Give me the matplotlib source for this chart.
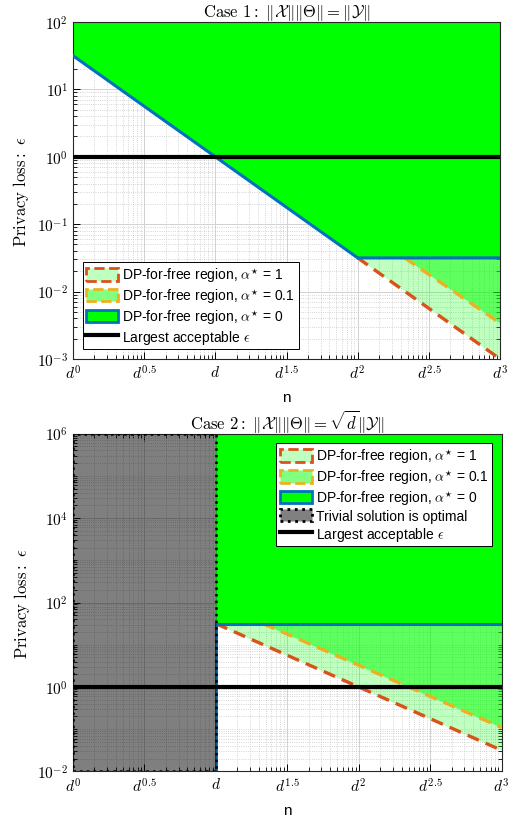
import numpy as np
import matplotlib
matplotlib.use("Agg")
import matplotlib.pyplot as plt
from matplotlib.patches import Patch
from matplotlib.lines import Line2D
from matplotlib.ticker import LogLocator, FixedLocator, FixedFormatter, NullFormatter

plt.rcParams["mathtext.fontset"] = "cm"
plt.rcParams["font.family"] = ["Liberation Sans", "DejaVu Sans"]

D = 100.0  # value of d used for the axis (d^0.5 = one decade)

# x positions are exponents of d, y values are epsilon
# case 1
c1_blue_t = [0.0, 2.0, 3.0]
c1_blue_eps = [31.6, 0.0316, 0.0316]
c1_red_t = [2.0, 3.0]
c1_red_eps = [0.0316, 0.001]
c1_orange_t = [2.33, 3.0]
c1_orange_eps = [0.0316, 0.0034]
c1_ylim = [1e-3, 1e2]

# case 2
c2_trivial_t = [0.0, 1.0]
c2_blue_t = [1.0, 3.0]
c2_blue_eps = [31.6, 31.6]
c2_red_t = [1.0, 3.0]
c2_red_eps = [31.6, 0.0316]
c2_orange_t = [1.33, 3.0]
c2_orange_eps = [31.6, 0.11]
c2_ylim = [1e-2, 1e6]

eps_max = 1.0

xtick_exp = [0, 0.5, 1, 1.5, 2, 2.5, 3]
xtick_labels = [r"$d^{0}$", r"$d^{0.5}$", r"$d$", r"$d^{1.5}$",
                r"$d^{2}$", r"$d^{2.5}$", r"$d^{3}$"]

GREEN = (0.0, 1.0, 0.0)
BLUE = (0.0, 0.447, 0.741)
RED = (0.851, 0.325, 0.098)
ORANGE = (0.929, 0.694, 0.125)
DASH = (0, (3.7, 2.2))

labels = [r"DP-for-free region, $\alpha^{\star}$ = 1",
          r"DP-for-free region, $\alpha^{\star}$ = 0.1",
          r"DP-for-free region, $\alpha^{\star}$ = 0",
          "Trivial solution is optimal",
          r"Largest acceptable $\epsilon$"]


def xs(t):
    return D ** np.asarray(t, dtype=float)


def interp_log(t, t_pts, eps_pts):
    return 10 ** np.interp(t, t_pts, np.log10(eps_pts))


def style_axes(ax, ylim, ymajor):
    ax.set_xscale("log")
    ax.set_yscale("log")
    ax.set_xlim(1, D ** 3)
    ax.set_ylim(*ylim)
    ax.xaxis.set_major_locator(FixedLocator(xs(xtick_exp)))
    ax.xaxis.set_major_formatter(FixedFormatter(xtick_labels))
    ax.xaxis.set_minor_locator(LogLocator(base=10, subs=np.arange(2, 10), numticks=50))
    ax.xaxis.set_minor_formatter(NullFormatter())
    ax.yaxis.set_major_locator(FixedLocator(ymajor))
    ax.yaxis.set_major_formatter(FixedFormatter(
        [r"$10^{%d}$" % int(round(np.log10(v))) for v in ymajor]))
    ax.yaxis.set_minor_locator(LogLocator(base=10, subs=np.arange(1, 10), numticks=50))
    ax.yaxis.set_minor_formatter(NullFormatter())
    ax.tick_params(which="both", direction="in", top=True, right=True, labelsize=11)
    ax.tick_params(which="major", length=5, width=0.7)
    ax.tick_params(which="minor", length=3, width=0.6)
    ax.set_axisbelow(True)
    ax.grid(which="major", color=(0.82, 0.82, 0.82), lw=0.7)
    ax.grid(which="minor", color=(0.78, 0.78, 0.78), lw=0.6, ls=":")
    for s in ax.spines.values():
        s.set_linewidth(0.8)
        s.set_color((0.15, 0.15, 0.15))
    ax.set_xlabel("n", fontsize=11, labelpad=6)
    ax.set_ylabel(r"$\mathrm{Privacy\ loss:}\ \epsilon$", fontsize=12, labelpad=4)


fig = plt.figure(figsize=(5.14, 8.2), dpi=100)

# ---------------- case 1 ----------------
ax1 = fig.add_axes([0.142, 0.561, 0.831, 0.411])
style_axes(ax1, c1_ylim, [1e-3, 1e-2, 1e-1, 1e0, 1e1, 1e2])

t = np.linspace(0, 3, 301)
blue = interp_log(t, c1_blue_t, c1_blue_eps)
ax1.fill_between(xs(t), blue, c1_ylim[1], color=GREEN, lw=0, zorder=2)

t_r = np.linspace(c1_red_t[0], c1_red_t[1], 101)
ax1.fill_between(xs(t_r), interp_log(t_r, c1_red_t, c1_red_eps),
                 interp_log(t_r, c1_blue_t, c1_blue_eps),
                 color=GREEN, alpha=0.25, lw=0, zorder=1)
t_o = np.linspace(c1_orange_t[0], c1_orange_t[1], 101)
ax1.fill_between(xs(t_o), interp_log(t_o, c1_orange_t, c1_orange_eps),
                 interp_log(t_o, c1_blue_t, c1_blue_eps),
                 color=GREEN, alpha=0.5, lw=0, zorder=1)

ax1.plot(xs(c1_red_t), c1_red_eps, color=RED, lw=2.4, ls=DASH, zorder=3)
ax1.plot(xs(c1_orange_t), c1_orange_eps, color=ORANGE, lw=2.4, ls=DASH, zorder=3)
ax1.plot(xs(c1_blue_t), c1_blue_eps, color=BLUE, lw=2.2, zorder=4)
ax1.axhline(eps_max, color="black", lw=3, zorder=5)
ax1.set_title(r"$\mathrm{Case\ 1:}\ \|\mathcal{X}\|\|\Theta\| = \|\mathcal{Y}\|$",
              fontsize=12, pad=2)

h1 = Patch(facecolor=(0.75, 1, 0.75), edgecolor=RED, ls="--", lw=2)
h2 = Patch(facecolor=(0.5, 1, 0.5), edgecolor=ORANGE, ls="--", lw=2)
h3 = Patch(facecolor=GREEN, edgecolor=BLUE, lw=2)
h4 = Patch(facecolor=(0.5, 0.5, 0.5), edgecolor="black", ls=":", lw=2)
h5 = Line2D([], [], color="black", lw=3)

leg_kw = dict(fontsize=10, frameon=True, fancybox=False, framealpha=1,
              edgecolor="black", handlelength=2.3, handleheight=1.0,
              handletextpad=0.3, labelspacing=0.15, borderpad=0.25,
              borderaxespad=0.7)
leg = ax1.legend([h1, h2, h3, h5], [labels[0], labels[1], labels[2], labels[4]],
                 loc="lower left", **leg_kw)
leg.get_frame().set_linewidth(0.7)
leg.set_zorder(10)

# ---------------- case 2 ----------------
ax2 = fig.add_axes([0.142, 0.058, 0.834, 0.412])
style_axes(ax2, c2_ylim, [1e-2, 1e0, 1e2, 1e4, 1e6])

ax2.fill_between(xs(c2_blue_t), c2_blue_eps, c2_ylim[1], color=GREEN, lw=0, zorder=2)
t_r = np.linspace(c2_red_t[0], c2_red_t[1], 101)
ax2.fill_between(xs(t_r), interp_log(t_r, c2_red_t, c2_red_eps),
                 interp_log(t_r, c2_blue_t, c2_blue_eps),
                 color=GREEN, alpha=0.25, lw=0, zorder=1)
t_o = np.linspace(c2_orange_t[0], c2_orange_t[1], 101)
ax2.fill_between(xs(t_o), interp_log(t_o, c2_orange_t, c2_orange_eps),
                 interp_log(t_o, c2_blue_t, c2_blue_eps),
                 color=GREEN, alpha=0.5, lw=0, zorder=1)

ax2.plot(xs(c2_red_t), c2_red_eps, color=RED, lw=2.4, ls=DASH, zorder=3)
ax2.plot(xs(c2_orange_t), c2_orange_eps, color=ORANGE, lw=2.4, ls=DASH, zorder=3)
ax2.plot(xs(c2_blue_t), c2_blue_eps, color=BLUE, lw=2.2, zorder=4)
ax2.plot(xs([c2_blue_t[0], c2_blue_t[0]]), [c2_ylim[0], c2_blue_eps[0]],
         color=BLUE, lw=2.2, zorder=4)

xt = xs(c2_trivial_t)
ax2.fill([xt[0], xt[1], xt[1], xt[0]],
         [c2_ylim[0], c2_ylim[0], c2_ylim[1], c2_ylim[1]],
         facecolor=(0, 0, 0, 0.5), edgecolor="black", ls=":", lw=1.8, zorder=5)
ax2.axhline(eps_max, color="black", lw=3, zorder=6)
ax2.set_title(r"$\mathrm{Case\ 2:}\ \|\mathcal{X}\|\|\Theta\| = \sqrt{d}\|\mathcal{Y}\|$",
              fontsize=12, pad=2)

leg = ax2.legend([h1, h2, h3, h4, h5], labels, loc="upper right", **leg_kw)
leg.get_frame().set_linewidth(0.7)
leg.set_zorder(10)

fig.savefig("out.png", dpi=100)
